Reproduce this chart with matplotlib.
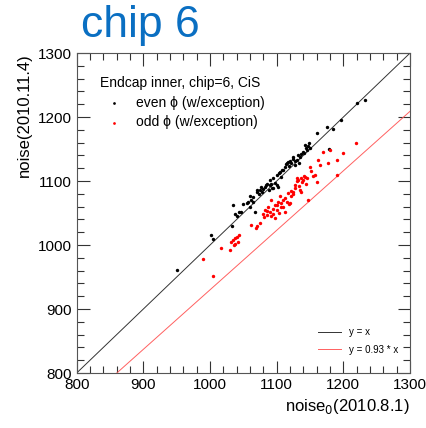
import numpy as np
import matplotlib
matplotlib.use('Agg')
import matplotlib.pyplot as plt
from matplotlib.ticker import MultipleLocator

plt.rcParams['font.family'] = ['Liberation Sans', 'DejaVu Sans']

# even phi (black)
even_x = [950, 1002, 1005, 1033, 1034, 1037, 1040, 1043, 1046, 1050, 1055, 1057, 1060, 1060, 1062,
          1064, 1065, 1068, 1070, 1070, 1073, 1075, 1077, 1078, 1080, 1082, 1084, 1085, 1088, 1090,
          1090, 1092, 1093, 1095, 1095, 1097, 1100, 1100, 1102, 1104, 1105, 1107, 1108, 1110, 1112,
          1114, 1115, 1117, 1118, 1120, 1122, 1124, 1125, 1127, 1128, 1130, 1132, 1133, 1135, 1137,
          1140, 1141, 1142, 1144, 1145, 1147, 1148, 1150, 1160, 1175, 1179, 1185, 1196, 1220, 1232]
even_y = [961, 1015, 1009, 1029, 1063, 1048, 1046, 1052, 1051, 1064, 1066, 1068, 1060, 1076, 1070,
          1068, 1075, 1052, 1083, 1086, 1080, 1086, 1091, 1083, 1088, 1091, 1094, 1096, 1086, 1102,
          1094, 1096, 1089, 1104, 1089, 1097, 1109, 1094, 1091, 1112, 1114, 1107, 1118, 1117, 1122,
          1126, 1128, 1130, 1124, 1132, 1128, 1137, 1135, 1125, 1131, 1133, 1140, 1128, 1138, 1143,
          1146, 1144, 1156, 1152, 1148, 1155, 1160, 1151, 1175, 1184, 1150, 1181, 1196, 1222, 1227]

# odd phi (red)
odd_x = [990, 1005, 1017, 1030, 1032, 1035, 1036, 1037, 1038, 1040, 1042, 1044, 1062, 1069, 1071,
         1075, 1080, 1081, 1082, 1085, 1086, 1087, 1090, 1091, 1092, 1094, 1095, 1097, 1098, 1100,
         1101, 1102, 1103, 1105, 1106, 1107, 1109, 1110, 1112, 1113, 1115, 1117, 1118, 1120, 1121,
         1122, 1124, 1125, 1127, 1128, 1130, 1131, 1132, 1133, 1135, 1136, 1137, 1138, 1140, 1141,
         1142, 1144, 1145, 1147, 1150, 1152, 1155, 1157, 1160, 1162, 1165, 1169, 1177, 1180, 1190,
         1190, 1200, 1219]
odd_y = [978, 951, 995, 993, 1005, 1008, 1000, 1002, 1011, 1013, 1005, 1016, 1031, 1026, 1030,
         1034, 1049, 1044, 1055, 1047, 1053, 1060, 1052, 1045, 1070, 1049, 1057, 1042, 1062, 1063,
         1055, 1068, 1050, 1076, 1059, 1065, 1071, 1060, 1052, 1074, 1068, 1081, 1064, 1065, 1085,
         1076, 1079, 1083, 1089, 1094, 1104, 1100, 1101, 1092, 1086, 1104, 1083, 1098, 1101, 1108,
         1107, 1096, 1104, 1070, 1122, 1115, 1108, 1110, 1099, 1133, 1125, 1145, 1128, 1149, 1133,
         1110, 1144, 1160]

ref_x = [800, 1300]
slope_red = 0.93

fig = plt.figure(figsize=(4.26, 4.28), dpi=100)
ax = fig.add_axes([0.180, 0.1285, 0.7825, 0.7475])

l1, = ax.plot(ref_x, ref_x, color='#333333', lw=0.7, label='y = x')
l2, = ax.plot(ref_x, [v * slope_red for v in ref_x], color='#ff6060', lw=0.7, label='y = 0.93 * x')
s1 = ax.scatter(even_x, even_y, s=6, color='black', lw=0, label='even \u03d5 (w/exception)', zorder=3)
s2 = ax.scatter(odd_x, odd_y, s=6, color='red', lw=0, label='odd \u03d5 (w/exception)', zorder=3)

ax.set_xlim(800, 1300)
ax.set_ylim(800, 1300)
ax.xaxis.set_major_locator(MultipleLocator(100))
ax.yaxis.set_major_locator(MultipleLocator(100))
ax.xaxis.set_minor_locator(MultipleLocator(20))
ax.yaxis.set_minor_locator(MultipleLocator(20))
ax.tick_params(which='both', direction='in', top=True, right=True, labelsize=11, color='#333333')
ax.tick_params(which='major', length=9, width=0.8)
ax.tick_params(which='minor', length=5, width=0.8)
for sp in ax.spines.values():
    sp.set_color('#555555')
    sp.set_linewidth(0.8)

leg1 = ax.legend(handles=[s1, s2], loc='upper left', frameon=False, fontsize=10,
                 title='Endcap inner, chip=6, CiS', title_fontsize=10,
                 alignment='left', markerscale=0.8, handletextpad=0.6,
                 borderaxespad=0.8, labelspacing=0.4, bbox_to_anchor=(0.02, 0.98))
ax.add_artist(leg1)
ax.legend(handles=[l1, l2], loc='lower right', frameon=False, fontsize=7,
          handlelength=2.4, labelspacing=0.75, bbox_to_anchor=(0.99, 0.03))

ax.set_xlabel('noise$_0$(2010.8.1)', fontsize=12, loc='right')
ax.set_ylabel('noise(2010.11.4)', fontsize=12, loc='top')

fig.text(0.19, 0.913, 'chip 6', fontsize=32, color='#0a6fc2', ha='left', va='baseline')

fig.savefig('out.png', dpi=100)
